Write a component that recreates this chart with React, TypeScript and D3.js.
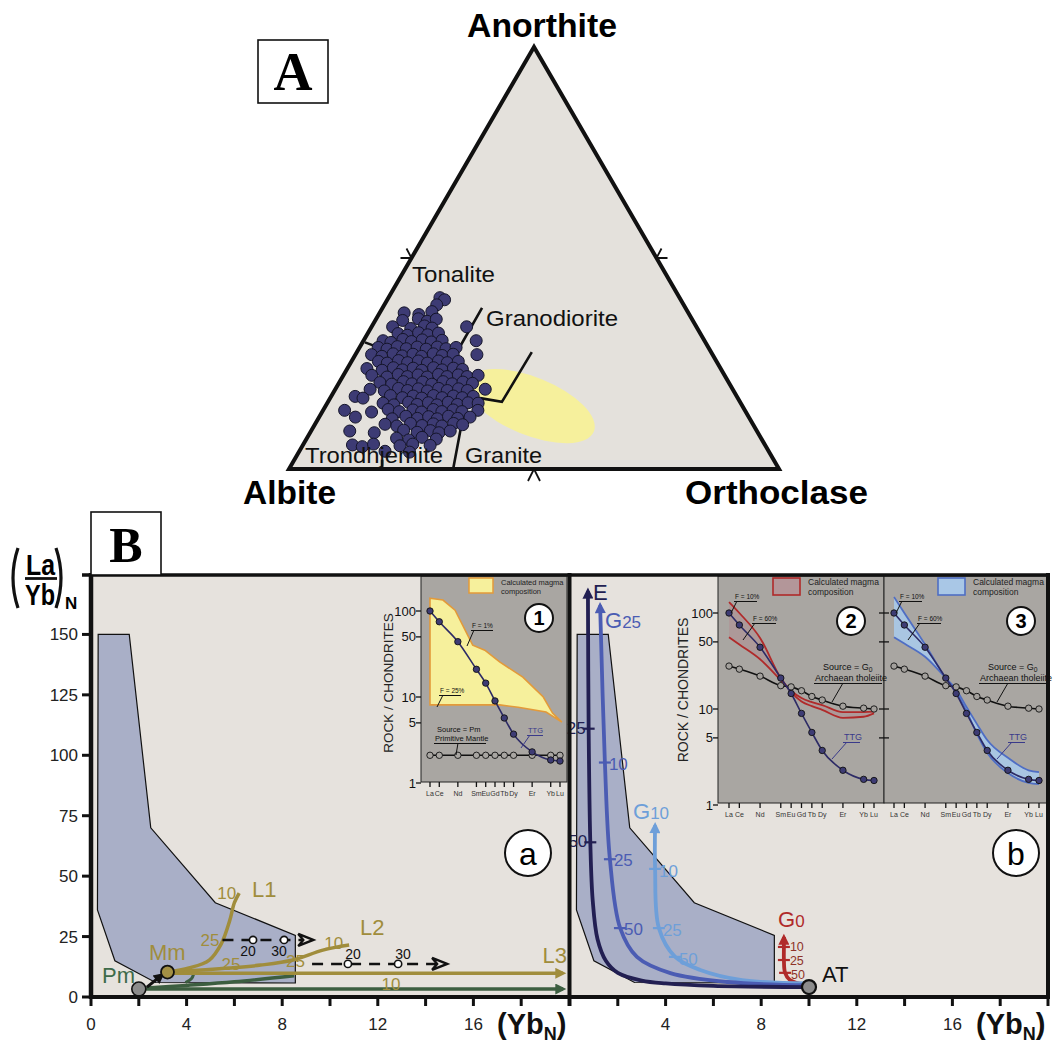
import React from "react";
import * as d3 from "d3";

type P = [number, number];

const SANS = "'Liberation Sans', Arial, Helvetica, sans-serif";
const SERIF = "'Liberation Serif', 'Times New Roman', serif";

// ---------- A : feldspar ternary, every value as [Or %, An %] ----------
const cornerNames = ["Anorthite", "Albite", "Orthoclase"];
const cornerComps: P[] = [[0, 100], [0, 0], [100, 0]];
const sideMidpoints: P[] = [[0, 50], [50, 50], [50, 0]];
const fieldLines: P[][] = [
  [[0.5, 30], [4.2, 28.7], [20, 21]],
  [[20.3, 38.2], [20.4, 28.2], [24, 20]],
  [[27, 18], [29, 13.3], [33.5, 0]],
  [[30.6, 16.8], [35.5, 15.9], [35.7, 27.7]],
  [[17.9, 2.2], [19, 0]],
];
const fieldNames = ["Tonalite", "Granodiorite", "Trondhjemite", "Granite"];
const graniteMeltCentre: P = [41.9, 14.9];
const ttgSamples: P[] = [
  [10.5, 40.6], [11.7, 40.1], [10.7, 38.9],
  [5.0, 37.0], [8.2, 36.6], [10.5, 37.3],
  [5.6, 35.2], [8.6, 35.6], [10.7, 35.0], [12.3, 35.5],
  [4.3, 33.7], [8.2, 33.3], [10.7, 33.9], [12.5, 33.4], [19.4, 33.7],
  [6.2, 32.1], [8.3, 31.7], [10.3, 32.3], [12.4, 31.8], [14.4, 32.2],
  [4.0, 30.4], [5.8, 30.0], [7.9, 30.7], [9.9, 30.2], [11.9, 30.6], [14.0, 30.1], [16.0, 30.5], [23.0, 30.4],
  [3.8, 28.8], [5.8, 28.4], [7.6, 29.0], [9.7, 28.5], [11.7, 28.9], [13.8, 28.4], [15.8, 28.9], [17.8, 28.5], [19.7, 28.8],
  [3.3, 27.1], [5.6, 26.7], [7.6, 27.3], [9.7, 26.8], [11.7, 27.2], [13.7, 26.7], [15.8, 27.3], [17.8, 26.9], [19.9, 27.2], [24.8, 27.1],
  [5.5, 25.5], [7.5, 25.1], [9.5, 25.7], [11.6, 25.2], [13.6, 25.6], [15.7, 25.1], [17.7, 25.6], [19.7, 25.2], [21.8, 25.5],
  [4.0, 23.8], [7.3, 23.4], [9.3, 24.0], [11.4, 23.5], [13.4, 23.9], [15.4, 23.4], [17.5, 24.0], [19.5, 23.5], [21.6, 23.9], [23.6, 23.6],
  [5.8, 22.2], [9.1, 21.8], [11.1, 22.4], [13.2, 21.9], [15.2, 22.3], [17.3, 21.8], [19.3, 22.4], [21.3, 21.9], [23.4, 22.3], [25.4, 21.9], [27.5, 22.2],
  [8.3, 20.5], [10.9, 20.1], [13.0, 20.7], [15.0, 20.2], [17.0, 20.6], [19.1, 20.1], [21.1, 20.7], [23.2, 20.2], [25.2, 20.6], [27.3, 20.3],
  [7.1, 18.9], [10.2, 18.5], [12.8, 19.1], [14.9, 18.6], [16.9, 19.0], [19.0, 18.5], [21.0, 19.1], [23.0, 18.6], [25.1, 19.0], [27.1, 18.6], [30.6, 18.9],
  [4.9, 17.2], [6.7, 16.8], [12.0, 17.4], [14.7, 16.9], [16.7, 17.3], [18.7, 16.8], [20.8, 17.4], [22.8, 16.9], [24.9, 17.3], [26.9, 16.9], [29.0, 17.2],
  [11.4, 15.6], [13.8, 15.2], [16.5, 15.8], [18.5, 15.3], [20.6, 15.7], [22.6, 15.2], [24.6, 15.8], [26.7, 15.3], [28.7, 15.7], [30.8, 15.6],
  [4.4, 13.9], [10.1, 13.5], [13.2, 14.1], [15.7, 13.6], [18.3, 14.0], [20.3, 13.5], [22.4, 14.1], [24.4, 13.6], [26.5, 14.0], [28.5, 13.6], [31.6, 13.9],
  [7.4, 12.3], [15.1, 11.9], [17.6, 12.5], [20.2, 12.0], [22.3, 12.4], [24.3, 11.9], [26.3, 12.5], [28.4, 12.0], [30.8, 12.3],
  [14.3, 10.6], [16.9, 10.2], [19.4, 10.8], [22.0, 10.3], [24.1, 10.7], [26.1, 10.2], [28.2, 10.8], [30.2, 10.5],
  [7.9, 9.0], [13.1, 8.6], [18.8, 9.2], [21.8, 8.7], [24.3, 9.1], [26.3, 8.6], [28.4, 9.0],
  [18.3, 7.3], [21.0, 6.9], [23.4, 7.5], [26.5, 7.1],
  [10.1, 5.7], [12.3, 5.3], [14.3, 5.9], [19.9, 5.5], [22.3, 5.9], [26.0, 5.6],
  [17.5, 4.2], [22.6, 4.0],
];

// ---------- B : (La/Yb)N versus YbN ----------
const xTickValues = [0, 2, 4, 6, 8, 10, 12, 14, 16, 18, 20];
const xTickLabelsLeft = [0, 4, 8, 12, 16];
const xTickLabelsRight = [4, 8, 12, 16];
const yTickValues = [0, 25, 50, 75, 100, 125, 150];
const ttgField: P[] = [[0.3, 150], [1.6, 150], [2.5, 70], [5.2, 39], [8.55, 25.5], [8.55, 5.8], [2.7, 6], [1.0, 15], [0.27, 36]];

const primitiveMantle: P = [2.0, 3.3];
const meltedMantle: P = [3.2, 10.3];
const pmToMm: P[] = [[2.34, 4.1], [2.97, 9.1]];
const curveL1: P[] = [[3.2, 10.3], [4.1, 12], [4.95, 15.3], [5.45, 22], [5.8, 31.5], [6.0, 39], [6.2, 43]];
const curveL2: P[] = [[3.2, 10.3], [5.8, 12], [7.1, 13.2], [8.45, 15.3], [9.7, 19.4], [10.8, 21.5]];
const curveL3: P[] = [[3.2, 9.8], [19.75, 9.8]];
const greenFlat: P[] = [[2.0, 3.3], [19.75, 3.3]];
const greenRise: P[] = [[2.2, 3.6], [4.0, 4.8], [6.0, 6.3], [8.5, 8.8]];
const greenStub: P[] = [[3.95, 6], [4.2, 7.5], [4.3, 9.6]];
const dashUpper: P[] = [[5.5, 23.6], [9.3, 23.6]];
const dashUpperMarks = [6.78, 8.08];
const dashLower: P[] = [[9.25, 13.7], [14.9, 13.7]];
const dashLowerMarks = [10.75, 12.85];
const dashMarkLabels = ["20", "30"];
const l1Labels: [number, number, string][] = [[6.2, 43, "10"], [5.5, 23.6, "25"]];

const archaeanTholeiite: P = [10.0, 4.1];
const curveE: P[] = [[10, 4.1], [6, 4.6], [4, 5.6], [3, 6.8], [2, 10], [1.5, 15], [1.15, 24], [0.95, 40], [0.85, 64], [0.78, 111], [0.75, 168]];
const curveG25: P[] = [[10, 4.9], [6.6, 6.2], [4.2, 9.9], [2.8, 16.6], [2.1, 28.5], [1.67, 57], [1.46, 97], [1.26, 162]];
const curveG10: P[] = [[10, 5.6], [7.2, 7], [5.45, 11.2], [4.4, 16.6], [3.72, 28.5], [3.56, 53], [3.56, 71]];
const curveG0: P[] = [[10, 4.6], [9.2, 7], [9.0, 10], [8.95, 15.3], [8.95, 20.7], [8.95, 24.8]];
const marksE: [number, number, string][] = [[0.78, 111, "25"], [0.85, 64, "50"]];
const marksG25: [number, number, string][] = [[1.46, 97, "10"], [1.67, 57, "25"], [2.09, 28.5, "50"]];
const marksG10: [number, number, string][] = [[3.56, 53, "10"], [3.72, 28.5, "25"], [4.39, 16.6, "50"]];
const marksG0: [number, number, string][] = [[8.95, 20.7, "10"], [8.95, 15.3, "25"], [9.0, 10, "50"]];

// ---------- REE insets ----------
const reeNames = ["La", "Ce", "Nd", "Sm", "Eu", "Gd", "Tb", "Dy", "Er", "Yb", "Lu"];
const reeIndex = [0, 1, 3, 5, 6, 7, 8, 9, 11, 13, 14];
const reeTicks = [1, 5, 10, 50, 100];
const ttgRee = [100, 75, 44, 21, 14.5, 9, 5.7, 3.7, 2.3, 1.85, 1.8];
const primitiveMantleRee = [2.1, 2.1, 2.1, 2.1, 2.1, 2.1, 2.1, 2.1, 2.1, 2.1, 2.1];
const tholeiiteRee = [28, 26, 22, 17.5, 17, 15.5, 13.5, 12.4, 10.7, 10.2, 10];
const pmMeltF1: P[] = [[0, 141], [1.4, 134], [2.7, 102], [4.6, 40], [5.9, 35], [7.5, 25.6], [10, 17], [12.2, 10], [13.2, 6.5], [14.2, 5.1]];
const pmMeltF25: P[] = [[14.2, 5.1], [12.5, 6.7], [9.5, 7.6], [7.5, 8.1], [0, 8.1]];
const g0MeltF10 = [130, 100, 55, 21, 15, 12, 10.7, 9.8, 8.1, 8.3, 9];
const g0MeltF60 = [56, 47, 33, 20, 15.5, 13, 11.8, 11, 9.3, 9.3, 9.4];
const g25MeltF10 = [147, 100, 47, 21, 15, 9.5, 5.5, 3.5, 2.15, 1.7, 1.65];
const g25MeltF60 = [56, 48, 35, 21, 16, 10.5, 7, 4.75, 3.1, 2.3, 2.2];

const C = {
  tri: "#e4e1dc", panel: "#e6e2dd", field: "#a9afc7", inset: "#a9a6a2",
  dot: "#3d3b74", olive: "#a08d3c", green: "#3c5e40", greenText: "#3e6b4a",
  navy: "#221f52", g25: "#4b5cb3", g10: "#6e9fd9", red: "#b02a2a", redText: "#8e3328",
  ttg: "#2d2b66", yellow: "#f6f09c", orange: "#e39a3a",
};

function ReeFrame({ xs, ys, x0, x1, y0, y1, axis }: any) {
  return (
    <g fontFamily={SANS}>
      <rect x={x0} y={y0} width={x1 - x0} height={y1 - y0} fill={C.inset} stroke="#222" strokeWidth={1} />
      {reeIndex.map((e, i) => (
        <g key={i}>
          <line x1={xs(e)} x2={xs(e)} y1={y1} y2={y1 + 5} stroke="#111" strokeWidth={1.3} />
          <text x={xs(e)} y={y1 + 14} fontSize={7} textAnchor="middle" fill="#333">{reeNames[i]}</text>
        </g>
      ))}
      {reeTicks.map(t => (
        <g key={t}>
          {axis === "labels" ? (
            <>
              <line x1={x0 - 5} x2={x0} y1={ys(t)} y2={ys(t)} stroke="#111" strokeWidth={1.3} />
              <text x={x0 - 5} y={ys(t) + 4.5} fontSize={13} textAnchor="end" fill="#111">{t}</text>
            </>
          ) : t > 1 ? (
            <line x1={x0 - 5} x2={x0 + 5} y1={ys(t)} y2={ys(t)} stroke="#111" strokeWidth={1.3} />
          ) : null}
        </g>
      ))}
    </g>
  );
}

function ReeSeries({ xs, ys, vals, stroke, fill }: any) {
  const line = d3.line<number>().x((_, i) => xs(reeIndex[i])).y(v => ys(v)).curve(d3.curveMonotoneX);
  return (
    <g>
      <path d={line(vals) || ""} fill="none" stroke={stroke} strokeWidth={1.6} />
      {vals.map((v: number, i: number) => (
        <circle key={i} cx={xs(reeIndex[i])} cy={ys(v)} r={3.2} fill={fill} stroke="#111" strokeWidth={0.9} />
      ))}
    </g>
  );
}

function Note({ x, y, text, sub, w, lead, color = "#111", size = 7.5 }: any) {
  return (
    <g fill={color} fontFamily={SANS}>
      <text x={x} y={y} fontSize={size}>{text}{sub && <tspan fontSize={size * 0.75} dy={2}>{sub}</tspan>}</text>
      {w > 0 && <line x1={x - 1} x2={x + w} y1={y + 2.5} y2={y + 2.5} stroke={color} strokeWidth={1} />}
      {lead && <line x1={lead[0]} y1={lead[1]} x2={lead[2]} y2={lead[3]} stroke={color} strokeWidth={1} />}
    </g>
  );
}

function NumCircle({ cx, cy, r, label, size }: any) {
  return (
    <g>
      <circle cx={cx} cy={cy} r={r} fill="#fff" stroke="#111" strokeWidth={2} />
      <text x={cx} y={cy + size * 0.36} fontSize={size} textAnchor="middle" fontFamily={SANS} fontWeight={/\d/.test(label) ? 700 : 400}>{label}</text>
    </g>
  );
}

export default function App() {
  // ternary
  const tx = d3.scaleLinear().domain([0, 100]).range([289, 779]);
  const ty = d3.scaleLinear().domain([0, 100]).range([469, 47]);
  const tp = (d: P): P => [tx(d[0] + d[1] / 2), ty(d[1])];
  const tLine = d3.line<P>().x(d => tp(d)[0]).y(d => tp(d)[1]);
  const chevrons: P[][] = [[[-11, 0], [-5, -9.5]], [[11, 0], [5, -9.5]], [[-6, 12], [6, 12]]];
  const ell = tp(graniteMeltCentre);

  // panel B
  const xL = d3.scaleLinear().domain([0, 20]).range([91, 569]);
  const xR = d3.scaleLinear().domain([0, 20]).range([570, 1048]);
  const yB = d3.scaleLinear().domain([0, 175]).range([997, 574]);
  const smooth = (xs: any) => d3.line<P>().x(d => xs(d[0])).y(d => yB(d[1])).curve(d3.curveCatmullRom.alpha(0.5));
  const lineL = smooth(xL);
  const lineR = smooth(xR);
  const polyL = d3.line<P>().x(d => xL(d[0])).y(d => yB(d[1]));
  const polyR = d3.line<P>().x(d => xR(d[0])).y(d => yB(d[1]));

  // insets
  const i1x = d3.scaleLinear().domain([0, 14]).range([430, 560]);
  const i1y = d3.scaleLog().domain([1, 100]).range([783, 611]);
  const i2x = d3.scaleLinear().domain([0, 14]).range([729, 874]);
  const i3x = d3.scaleLinear().domain([0, 14]).range([894, 1039]);
  const i23y = d3.scaleLog().domain([1, 100]).range([805, 613]);
  const yellowPath = d3.line<P>().x(d => i1x(d[0])).y(d => i1y(d[1]))(pmMeltF1.concat(pmMeltF25)) + "Z";
  const band = (xs: any, lo: number[], hi: number[]) =>
    d3.area<number>().x((_, i) => xs(reeIndex[i])).y0((_, i) => i23y(lo[i])).y1(v => i23y(v)).curve(d3.curveMonotoneX)(hi) || "";
  const meltLine = (xs: any, vals: number[]) =>
    d3.line<number>().x((_, i) => xs(reeIndex[i])).y(v => i23y(v)).curve(d3.curveMonotoneX)(vals) || "";

  const arrowDefs = [
    { id: "olive", c: C.olive }, { id: "green", c: C.green }, { id: "navy", c: C.navy },
    { id: "g25", c: C.g25 }, { id: "g10", c: C.g10 }, { id: "red", c: C.red }, { id: "black", c: "#111" },
  ];

  const openHead = (x: number, y: number) => `M${x},${y} L${x - 15},${y - 6} L${x - 10},${y} L${x - 15},${y + 6} Z`;

  const curveTicks = (marks: [number, number, string][], color: string, textColor: string, side: "left" | "right", dx: number, dy: number, size = 17, step = 0) =>
    marks.map(([mx, my, lab], i) => (
      <g key={i}>
        <line x1={xR(mx) - 6} x2={xR(mx) + 6} y1={yB(my)} y2={yB(my)} stroke={color} strokeWidth={2.2} />
        <text x={xR(mx) + (side === "left" ? -dx : dx)} y={yB(my) + dy + i * step} fontSize={size} fill={textColor}
          textAnchor={side === "left" ? "end" : "start"} fontFamily={SANS}>{lab}</text>
      </g>
    ));

  return (
    <div style={{ position: "absolute", left: 0, top: 0, background: "#fff" }}>
      <svg width={1053} height={1044} fontFamily={SANS}>
        <defs>
          {arrowDefs.map(a => (
            <marker key={a.id} id={`ah-${a.id}`} viewBox="0 0 10 10" refX={7} refY={5} markerWidth={13} markerHeight={11}
              markerUnits="userSpaceOnUse" orient="auto">
              <path d="M0,0 L10,5 L0,10 Z" fill={a.c} />
            </marker>
          ))}
        </defs>
        <rect width={1053} height={1044} fill="#fff" />

        {/* ================= A ================= */}
        <path d={tLine(cornerComps) + "Z"} fill={C.tri} />
        <ellipse cx={0} cy={0} rx={68} ry={29} fill={C.yellow} transform={`translate(${ell[0]},${ell[1]}) rotate(22)`} />
        {fieldLines.map((l, i) => (
          <path key={i} d={tLine(l) || ""} fill="none" stroke="#111" strokeWidth={2.6} />
        ))}
        {ttgSamples.map((d, i) => {
          const [cx, cy] = tp(d);
          return <circle key={i} cx={cx} cy={cy} r={6} fill={C.dot} stroke="#15152a" strokeWidth={1} />;
        })}
        <path d={tLine(cornerComps) + "Z"} fill="none" stroke="#111" strokeWidth={4} strokeLinejoin="miter" />
        {sideMidpoints.map((m, i) => {
          const [mx, my] = tp(m);
          return (
            <path key={i} d={`M${mx + chevrons[i][0][0]},${my + chevrons[i][0][1]} L${mx},${my} L${mx + chevrons[i][1][0]},${my + chevrons[i][1][1]}`}
              fill="none" stroke="#111" strokeWidth={1.8} />
          );
        })}
        <text x={tp(cornerComps[0])[0] + 8} y={37} fontSize={34} fontWeight={700} textAnchor="middle" textLength={150} lengthAdjust="spacingAndGlyphs">{cornerNames[0]}</text>
        <text x={243} y={504} fontSize={34} fontWeight={700} textLength={93} lengthAdjust="spacingAndGlyphs">{cornerNames[1]}</text>
        <text x={685} y={504} fontSize={34} fontWeight={700} textLength={183} lengthAdjust="spacingAndGlyphs">{cornerNames[2]}</text>
        <g fontSize={22} fill="#111">
          <text x={412} y={282} textLength={83} lengthAdjust="spacingAndGlyphs">{fieldNames[0]}</text>
          <text x={486} y={326} textLength={132} lengthAdjust="spacingAndGlyphs">{fieldNames[1]}</text>
          <text x={305} y={463} textLength={138} lengthAdjust="spacingAndGlyphs">{fieldNames[2]}</text>
          <text x={465} y={463} textLength={77} lengthAdjust="spacingAndGlyphs">{fieldNames[3]}</text>
        </g>
        <rect x={258} y={40} width={70} height={63} fill="#fff" stroke="#111" strokeWidth={1.6} />
        <text x={293} y={90} fontSize={54} fontWeight={700} fontFamily={SERIF} textAnchor="middle">A</text>

        {/* ================= B ================= */}
        <rect x={91} y={575} width={478} height={422} fill={C.panel} />
        <rect x={570} y={575} width={478} height={422} fill={C.panel} />
        <path d={polyL(ttgField) + "Z"} fill={C.field} stroke="#111" strokeWidth={1.2} />
        <path d={polyR(ttgField) + "Z"} fill={C.field} stroke="#111" strokeWidth={1.2} />

        {/* inset 1 */}
        <ReeFrame xs={i1x} ys={i1y} x0={421} x1={567} y0={576} y1={782} axis="labels" />
        <text transform="translate(393,683) rotate(-90)" fontSize={13.5} textAnchor="middle" fill="#222">ROCK / CHONDRITES</text>
        <path d={yellowPath} fill={C.yellow} stroke={C.orange} strokeWidth={1.6} />
        <ReeSeries xs={i1x} ys={i1y} vals={primitiveMantleRee} stroke="#111" fill={C.inset} />
        <ReeSeries xs={i1x} ys={i1y} vals={ttgRee} stroke={C.ttg} fill={C.dot} />
        <rect x={469} y={578} width={24} height={15} fill={C.yellow} stroke={C.orange} strokeWidth={1.5} />
        <text x={501} y={585} fontSize={7.5} fill="#222">Calculated magma</text>
        <text x={501} y={594} fontSize={7.5} fill="#222">composition</text>
        <Note x={472} y={628} text="F = 1%" w={21} lead={[474, 630, 467, 646]} size={6.5} />
        <Note x={440} y={693} text="F = 25%" w={21} lead={[443, 695, 437, 707]} size={6.5} />
        <Note x={528} y={733} text="TTG" w={15} lead={[530, 735, 521, 748]} color="#3a3a8a" />
        <Note x={437} y={732} text="Source = Pm" w={0} />
        <Note x={435} y={741} text="Primitive Mantle" w={51} lead={[458, 743, 456, 755]} />
        <NumCircle cx={539} cy={618} r={14} label="1" size={20} />

        {/* insets 2 and 3 */}
        <ReeFrame xs={i2x} ys={i23y} x0={718} x1={884} y0={576} y1={803} axis="labels" />
        <ReeFrame xs={i3x} ys={i23y} x0={884} x1={1048} y0={576} y1={803} axis="ticks" />
        <text transform="translate(688,690) rotate(-90)" fontSize={14} textAnchor="middle" fill="#222">ROCK / CHONDRITES</text>

        <path d={band(i2x, g0MeltF60, g0MeltF10)} fill="#ae9698" opacity={0.85} />
        <path d={meltLine(i2x, g0MeltF10)} fill="none" stroke={C.red} strokeWidth={1.8} />
        <path d={meltLine(i2x, g0MeltF60)} fill="none" stroke={C.red} strokeWidth={1.8} />
        <ReeSeries xs={i2x} ys={i23y} vals={tholeiiteRee} stroke="#111" fill="#a3a09c" />
        <ReeSeries xs={i2x} ys={i23y} vals={ttgRee} stroke={C.ttg} fill={C.dot} />

        <path d={band(i3x, g25MeltF60, g25MeltF10)} fill="#a9c7e6" opacity={0.95} />
        <path d={meltLine(i3x, g25MeltF10)} fill="none" stroke="#4f6ec4" strokeWidth={1.8} />
        <path d={meltLine(i3x, g25MeltF60)} fill="none" stroke="#4f6ec4" strokeWidth={1.8} />
        <ReeSeries xs={i3x} ys={i23y} vals={tholeiiteRee} stroke="#111" fill="#a3a09c" />
        <ReeSeries xs={i3x} ys={i23y} vals={ttgRee} stroke={C.ttg} fill={C.dot} />

        {[0, 165].map(o => (
          <g key={o}>
            <Note x={735 + o} y={599} text="F = 10%" w={22} lead={[737 + o, 601, 731 + o, 613]} size={6.5} />
            <Note x={753 + o} y={621} text="F = 60%" w={23} lead={[755 + o, 623, 743 + o, 640]} size={6.5} />
            <Note x={823 + o} y={670} text="Source = G" sub="0" w={0} size={9} />
            <Note x={815 + o} y={681} text="Archaean tholeiite" w={67} lead={[843 + o, 683, 832 + o, 702]} size={9} />
            <Note x={844 + o} y={740} text="TTG" w={16} lead={[847 + o, 742, 832 + o, 759]} color="#3a3a8a" size={9} />
            <text x={808 + o} y={585} fontSize={8.5} fill="#222">Calculated magma</text>
            <text x={808 + o} y={595} fontSize={8.5} fill="#222">composition</text>
          </g>
        ))}
        <rect x={773} y={578} width={27} height={17} fill="#b39699" stroke={C.red} strokeWidth={1.6} />
        <rect x={938} y={578} width={27} height={17} fill="#a9c7e6" stroke="#4f6ec4" strokeWidth={1.6} />
        <NumCircle cx={851} cy={621} r={14} label="2" size={20} />
        <NumCircle cx={1021} cy={621} r={14} label="3" size={20} />

        {/* left panel curves */}
        <path d={lineL(greenRise) || ""} fill="none" stroke={C.green} strokeWidth={3.5} />
        <path d={lineL(greenStub) || ""} fill="none" stroke={C.green} strokeWidth={3} />
        <path d={lineL(greenFlat) || ""} fill="none" stroke={C.green} strokeWidth={3.5} markerEnd="url(#ah-green)" />
        <path d={lineL(curveL3) || ""} fill="none" stroke={C.olive} strokeWidth={3.5} markerEnd="url(#ah-olive)" />
        <path d={lineL(curveL2) || ""} fill="none" stroke={C.olive} strokeWidth={3.5} />
        <path d={lineL(curveL1) || ""} fill="none" stroke={C.olive} strokeWidth={3.5} />
        {[{ p: dashUpper, m: dashUpperMarks, dy: 16, dx: -5 }, { p: dashLower, m: dashLowerMarks, dy: -5, dx: 5 }].map((d, k) => {
          const end = d.p[1];
          return (
            <g key={k}>
              <line x1={xL(d.p[0][0])} x2={xL(end[0]) - 10} y1={yB(d.p[0][1])} y2={yB(end[1])} stroke="#111" strokeWidth={2.5} strokeDasharray="11 8" />
              <path d={openHead(xL(end[0]), yB(end[1]))} fill={C.panel} stroke="#111" strokeWidth={2.4} strokeLinejoin="miter" />
              {d.m.map((mx, i) => (
                <g key={i}>
                  <circle cx={xL(mx)} cy={yB(end[1])} r={3.6} fill="#fff" stroke="#111" strokeWidth={1.6} />
                  <text x={xL(mx) + d.dx} y={yB(end[1]) + d.dy} fontSize={14} textAnchor="middle" fill="#111">{dashMarkLabels[i]}</text>
                </g>
              ))}
            </g>
          );
        })}
        <path d={lineL(pmToMm) || ""} fill="none" stroke="#111" strokeWidth={3} markerEnd="url(#ah-black)" />
        <circle cx={xL(primitiveMantle[0])} cy={yB(primitiveMantle[1])} r={7} fill="#8c8c8c" stroke="#111" strokeWidth={1.6} />
        <circle cx={xL(meltedMantle[0])} cy={yB(meltedMantle[1])} r={6.5} fill="#a39045" stroke="#111" strokeWidth={1.8} />
        <g fill={C.olive} fontSize={17}>
          <text x={xL(l1Labels[0][0]) - 3} y={yB(l1Labels[0][1]) + 6} textAnchor="end">{l1Labels[0][2]}</text>
          <text x={xL(l1Labels[1][0]) - 3} y={yB(l1Labels[1][1]) + 6} textAnchor="end">{l1Labels[1][2]}</text>
          <text x={xL(curveL2[5][0]) - 6} y={yB(curveL2[5][1]) + 4} textAnchor="end">10</text>
          <text x={xL(curveL2[3][0]) - 7} y={yB(curveL2[3][1]) + 7}>25</text>
          <text x={xL(5.86)} y={yB(curveL3[0][1]) - 3} textAnchor="middle">25</text>
          <text x={xL(12.55)} y={yB(curveL3[0][1]) + 17} textAnchor="middle">10</text>
          <text x={252} y={897} fontSize={22}>L1</text>
          <text x={360} y={935} fontSize={22}>L2</text>
          <text x={567} y={963} fontSize={22} textAnchor="end">L3</text>
          <text x={149} y={960} fontSize={22}>Mm</text>
        </g>
        <text x={102} y={983} fontSize={22} fill={C.greenText}>Pm</text>
        <NumCircle cx={528} cy={853} r={23} label="a" size={32} />

        {/* right panel curves */}
        <path d={lineR(curveG0) || ""} fill="none" stroke={C.red} strokeWidth={3.8} markerEnd="url(#ah-red)" />
        <path d={lineR(curveG10) || ""} fill="none" stroke={C.g10} strokeWidth={3.8} markerEnd="url(#ah-g10)" />
        <path d={lineR(curveG25) || ""} fill="none" stroke={C.g25} strokeWidth={3.8} markerEnd="url(#ah-g25)" />
        <path d={lineR(curveE) || ""} fill="none" stroke={C.navy} strokeWidth={3.8} markerEnd="url(#ah-navy)" />
        {curveTicks(marksE, C.navy, C.navy, "left", 3, 5)}
        {curveTicks(marksG25, C.g25, C.g25, "right", 4, 7)}
        {curveTicks(marksG10, C.g10, C.g10, "right", 4, 8)}
        {curveTicks(marksG0, C.red, C.redText, "right", 6, 4, 12.5, 1.2)}
        <circle cx={xR(archaeanTholeiite[0])} cy={yB(archaeanTholeiite[1])} r={7} fill="#8c8c8c" stroke="#111" strokeWidth={2.2} />
        <text x={822} y={982} fontSize={22} fill="#111">AT</text>
        <text x={593} y={600} fontSize={22} fill={C.navy}>E</text>
        <text x={605} y={628} fontSize={22} fill={C.g25}>G<tspan fontSize={17}>25</tspan></text>
        <text x={633} y={819} fontSize={22} fill={C.g10}>G<tspan fontSize={17}>10</tspan></text>
        <text x={778} y={927} fontSize={22} fill={C.red}>G<tspan fontSize={17}>0</tspan></text>
        <NumCircle cx={1016} cy={853} r={23} label="b" size={32} />

        {/* frame & axes */}
        <line x1={82} x2={1050} y1={575} y2={575} stroke="#111" strokeWidth={3.5} />
        <line x1={91} x2={91} y1={573} y2={999} stroke="#111" strokeWidth={4.5} />
        <line x1={569.5} x2={569.5} y1={573} y2={999} stroke="#111" strokeWidth={4} />
        <line x1={1048} x2={1048} y1={573} y2={999} stroke="#111" strokeWidth={4} />
        <line x1={89} x2={1050} y1={997} y2={997} stroke="#111" strokeWidth={4} />
        {yTickValues.map(v => (
          <g key={v}>
            <line x1={82} x2={91} y1={yB(v)} y2={yB(v)} stroke="#111" strokeWidth={3} />
            <text x={78} y={yB(v) + 6} fontSize={17} textAnchor="end" fill="#222">{v}</text>
          </g>
        ))}
        {xTickValues.map(v => (
          <g key={v}>
            <line x1={xL(v)} x2={xL(v)} y1={997} y2={1006} stroke="#111" strokeWidth={3} />
            <line x1={xR(v)} x2={xR(v)} y1={997} y2={1006} stroke="#111" strokeWidth={3} />
          </g>
        ))}
        {xTickLabelsLeft.map(v => (
          <text key={v} x={xL(v)} y={1030} fontSize={17} textAnchor="middle" fill="#222">{v}</text>
        ))}
        {xTickLabelsRight.map(v => (
          <text key={v} x={xR(v)} y={1030} fontSize={17} textAnchor="middle" fill="#222">{v}</text>
        ))}
        {[497, 976].map(x => (
          <text key={x} x={x} y={1034} fontSize={29} fontWeight={700} fill="#111">(Yb<tspan fontSize={18} dy={6}>N</tspan><tspan dy={-6}>)</tspan></text>
        ))}

        {/* y-axis title */}
        <path d="M18,548 Q8,578 18,608" fill="none" stroke="#111" strokeWidth={3.2} />
        <path d="M56,548 Q66,578 56,608" fill="none" stroke="#111" strokeWidth={3.2} />
        <text x={26} y={575} fontSize={30} fontWeight={700} textLength={29} lengthAdjust="spacingAndGlyphs">La</text>
        <line x1={25} x2={57} y1={578.5} y2={578.5} stroke="#111" strokeWidth={2.8} />
        <text x={25} y={605} fontSize={30} fontWeight={700} textLength={30} lengthAdjust="spacingAndGlyphs">Yb</text>
        <text x={65} y={609} fontSize={17} fontWeight={700}>N</text>

        <rect x={91} y={512} width={70} height={63} fill="#fff" stroke="#111" strokeWidth={1.6} />
        <text x={126} y={562} fontSize={50} fontWeight={700} fontFamily={SERIF} textAnchor="middle">B</text>
      </svg>
    </div>
  );
}
